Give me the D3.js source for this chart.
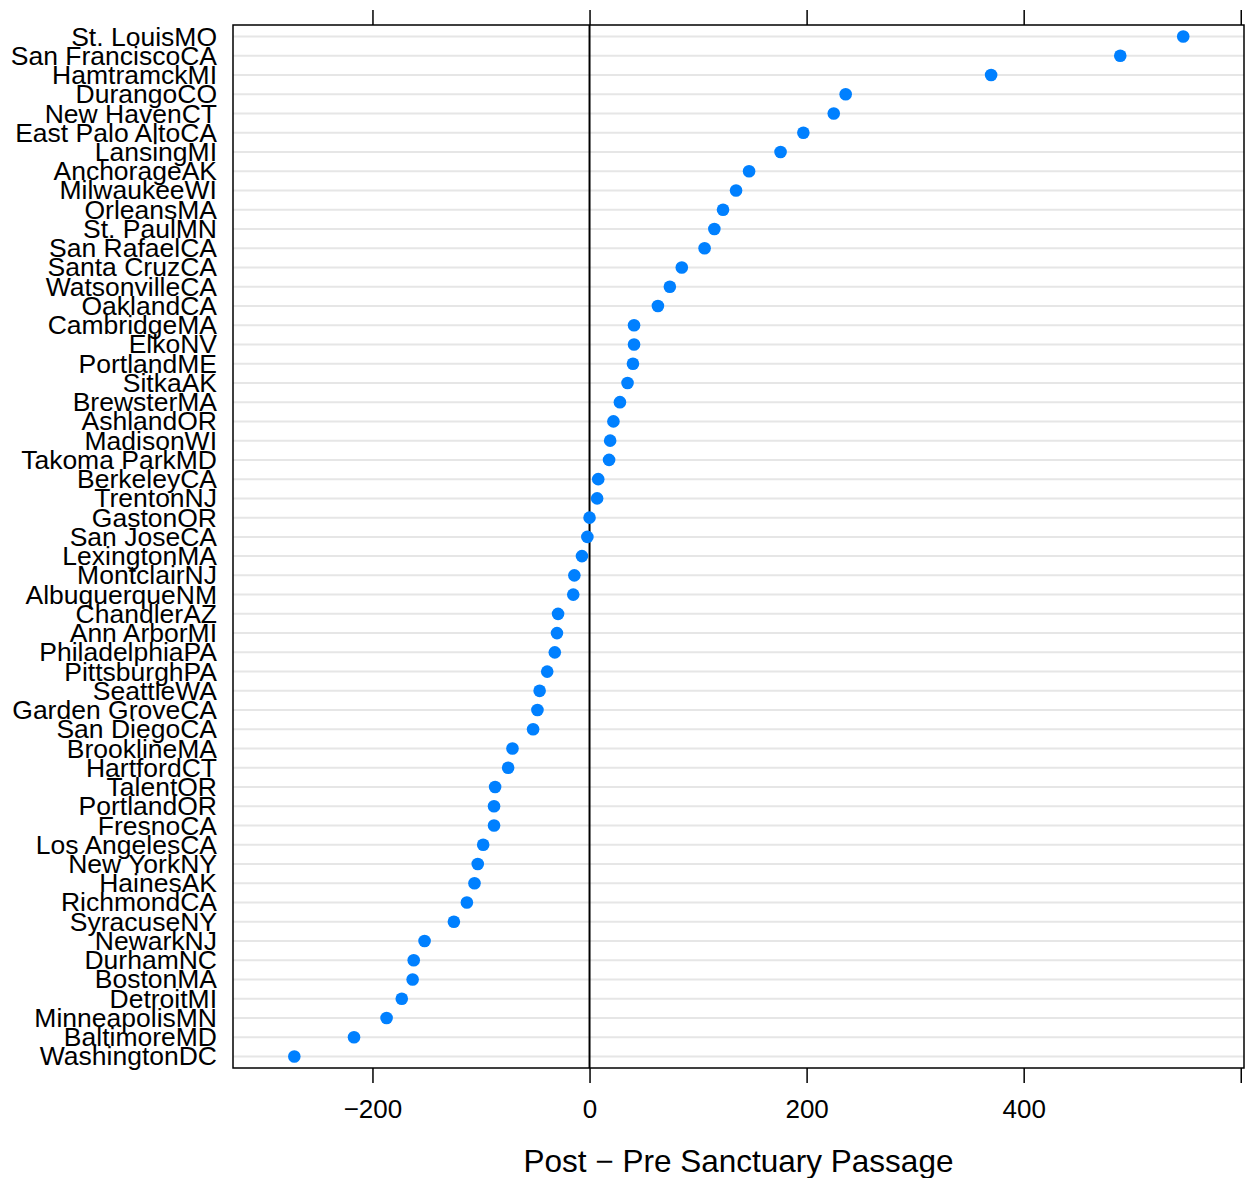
<!DOCTYPE html>
<html>
<head>
<meta charset="utf-8">
<script src="https://cdn.jsdelivr.net/npm/d3@7"></script>
<style>
  body { margin: 0; background: #fff; }
  text { font-family: "Liberation Sans", Arial, sans-serif; }
</style>
</head>
<body>
<div id="chart"></div>
<script>
const cities = [
  "St. LouisMO", "San FranciscoCA", "HamtramckMI", "DurangoCO", "New HavenCT",
  "East Palo AltoCA", "LansingMI", "AnchorageAK", "MilwaukeeWI", "OrleansMA",
  "St. PaulMN", "San RafaelCA", "Santa CruzCA", "WatsonvilleCA", "OaklandCA",
  "CambridgeMA", "ElkoNV", "PortlandME", "SitkaAK", "BrewsterMA",
  "AshlandOR", "MadisonWI", "Takoma ParkMD", "BerkeleyCA", "TrentonNJ",
  "GastonOR", "San JoseCA", "LexingtonMA", "MontclairNJ", "AlbuquerqueNM",
  "ChandlerAZ", "Ann ArborMI", "PhiladelphiaPA", "PittsburghPA", "SeattleWA",
  "Garden GroveCA", "San DiegoCA", "BrooklineMA", "HartfordCT", "TalentOR",
  "PortlandOR", "FresnoCA", "Los AngelesCA", "New YorkNY", "HainesAK",
  "RichmondCA", "SyracuseNY", "NewarkNJ", "DurhamNC", "BostonMA",
  "DetroitMI", "MinneapolisMN", "BaltimoreMD", "WashingtonDC"
];
const diffs = [
  547, 489, 370, 236, 225,
  197, 176, 147, 135, 123,
  115, 106, 85, 74, 63,
  41, 41, 40, 35, 28,
  22, 19, 18, 8, 7,
  0, -2, -7, -14, -15,
  -29, -30, -32, -39, -46,
  -48, -52, -71, -75, -87,
  -88, -88, -98, -103, -106,
  -113, -125, -152, -162, -163,
  -173, -187, -217, -272
];
const xTicks = [-200, 0, 200, 400, 600];
const xTitle = "Post \u2212 Pre Sanctuary Passage";

const width = 1251, height = 1178;
const pLeft = 233, pRight = 1244, pTop = 25, pBottom = 1068;

const svg = d3.select("#chart").append("svg")
  .attr("width", width)
  .attr("height", height);

const x = d3.scaleLinear().domain([-328.5, 603]).range([pLeft, pRight]);
const y = d3.scalePoint().domain(cities).range([pTop, pBottom]).padding(0.6);

// horizontal reference lines
svg.append("g")
  .selectAll("line")
  .data(cities)
  .join("line")
  .attr("x1", pLeft).attr("x2", pRight)
  .attr("y1", d => y(d)).attr("y2", d => y(d))
  .attr("stroke", "#e6e6e6")
  .attr("stroke-width", 2);

// zero line
svg.append("line")
  .attr("x1", x(0)).attr("x2", x(0))
  .attr("y1", pTop).attr("y2", pBottom)
  .attr("stroke", "#000")
  .attr("stroke-width", 2);

// points
svg.append("g")
  .attr("fill", "#0080ff")
  .selectAll("circle")
  .data(d3.range(cities.length))
  .join("circle")
  .attr("cx", i => x(diffs[i]))
  .attr("cy", i => y(cities[i]))
  .attr("r", 6.3);

// frame
svg.append("rect")
  .attr("x", pLeft).attr("y", pTop)
  .attr("width", pRight - pLeft).attr("height", pBottom - pTop)
  .attr("fill", "none")
  .attr("stroke", "#000")
  .attr("stroke-width", 1.5);

const fmt = d3.format("d");

svg.append("g")
  .attr("transform", `translate(0,${pBottom})`)
  .call(d3.axisBottom(x).tickValues(xTicks).tickSize(15).tickPadding(17)
    .tickFormat(d => d === 600 ? "" : fmt(d)))
  .call(g => g.select(".domain").remove())
  .call(g => g.selectAll(".tick line").attr("stroke-width", 1.5))
  .call(g => g.selectAll(".tick text").attr("font-size", 26).attr("fill", "#000")
    .attr("font-family", "'Liberation Sans', Arial, sans-serif"));

svg.append("g")
  .attr("transform", `translate(0,${pTop})`)
  .call(d3.axisTop(x).tickValues(xTicks).tickSize(15).tickFormat(""))
  .call(g => g.select(".domain").remove())
  .call(g => g.selectAll(".tick line").attr("stroke-width", 1.5));

svg.append("g")
  .attr("transform", `translate(${pLeft},0)`)
  .call(d3.axisLeft(y).tickSize(0).tickPadding(16))
  .call(g => g.select(".domain").remove())
  .call(g => g.selectAll(".tick text").attr("font-size", 26.5).attr("fill", "#000")
    .attr("font-family", "'Liberation Sans', Arial, sans-serif"));

svg.append("text")
  .attr("x", (pLeft + pRight) / 2)
  .attr("y", 1172)
  .attr("text-anchor", "middle")
  .attr("font-size", 31.5)
  .text(xTitle);
</script>
</body>
</html>
